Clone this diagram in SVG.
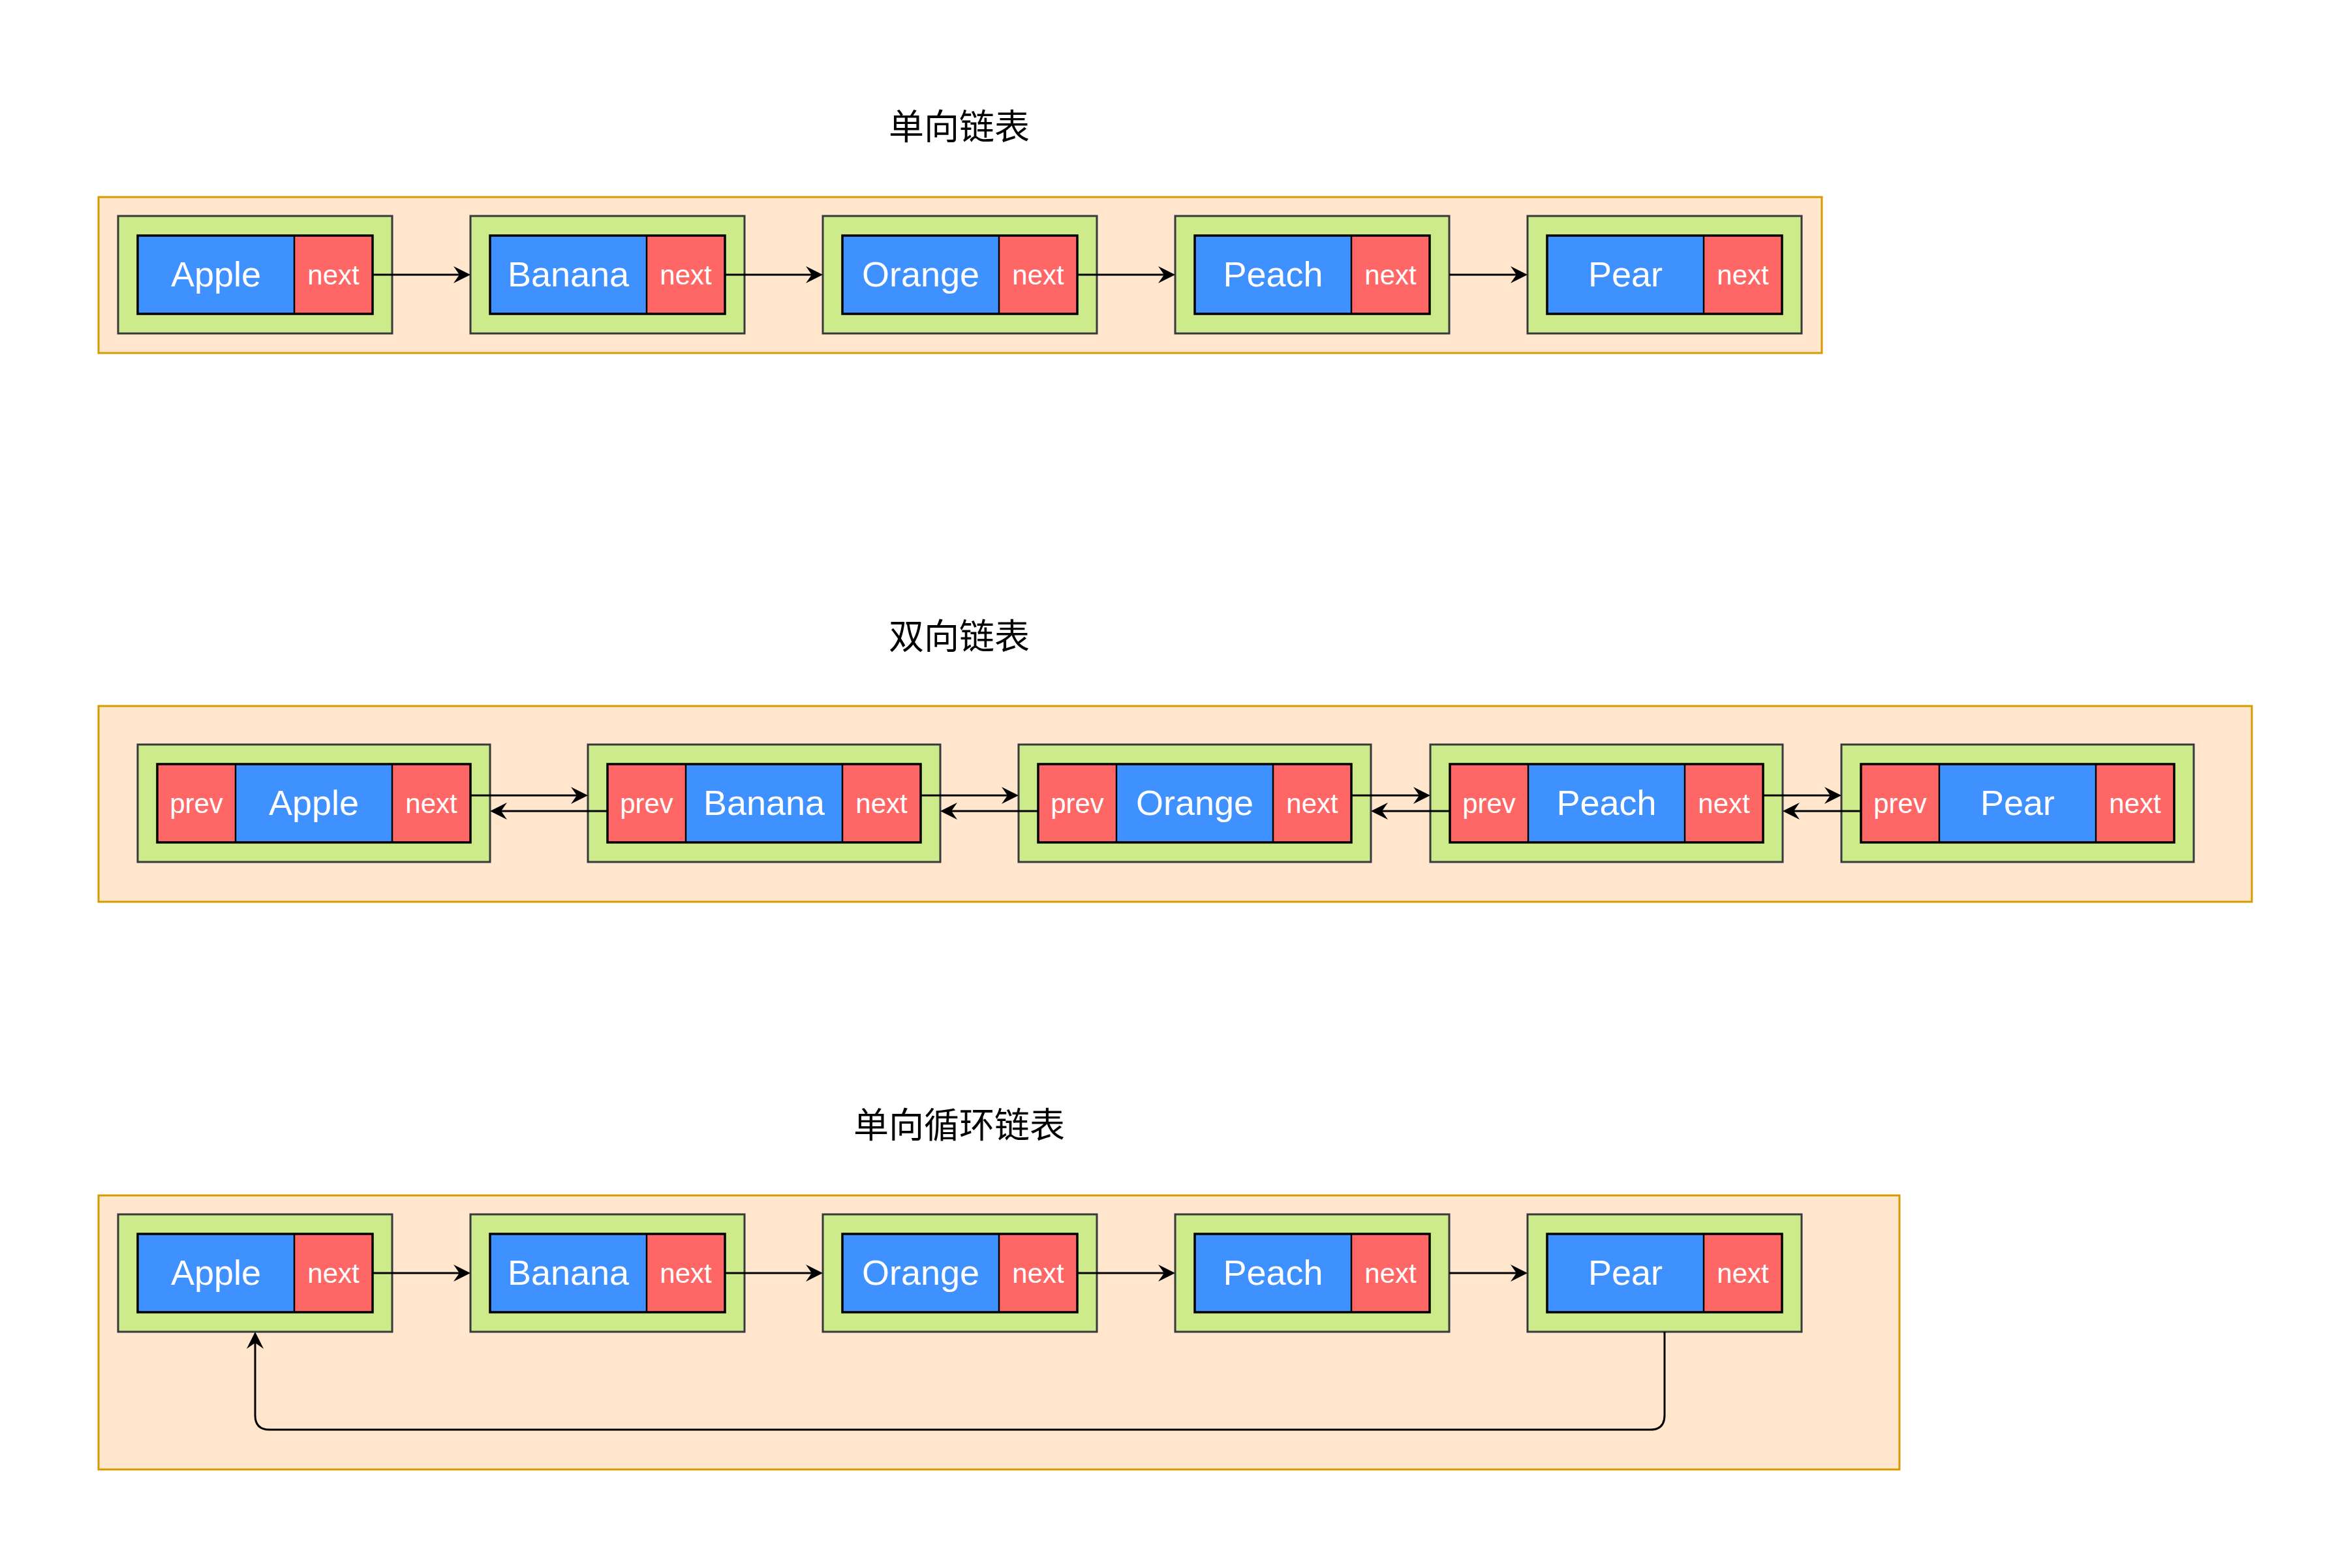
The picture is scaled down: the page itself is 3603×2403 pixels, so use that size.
<svg xmlns="http://www.w3.org/2000/svg" width="3603" height="2403" viewBox="0 0 3603 2403">
<style>
.frame{fill:#FFE6CC;stroke:#D79B00;stroke-width:3}
.node{fill:#CDEB8B;stroke:#36393D;stroke-width:3}
.val{fill:#3E91FF}
.ptr{fill:#FF6666}
.box{fill:none;stroke:#000;stroke-width:3.5}
.div{stroke:#000;stroke-width:2.5}
.big{font-family:"Liberation Sans",Arial,sans-serif;font-size:54px;fill:#fff;text-anchor:middle}
.small{font-family:"Liberation Sans",Arial,sans-serif;font-size:42px;fill:#fff;text-anchor:middle}
.title{font-family:"Noto Sans CJK SC","Noto Sans",sans-serif;font-size:54px;fill:#000;text-anchor:middle}
.edge{fill:none;stroke:#000;stroke-width:3}
</style>
<defs>
<marker id="arr" viewBox="-26 -13 26 26" refX="-17" refY="0" markerWidth="26" markerHeight="26" markerUnits="userSpaceOnUse" orient="auto">
<path d="M0,0 L-26,-13 L-17,0 L-26,13 Z" fill="#000"/>
</marker>
</defs>
<rect width="3603" height="2403" fill="#fff"/>

<g id="frames">
<rect class="frame" x="151" y="302" width="2641" height="239"/>
<rect class="frame" x="151" y="1082" width="3300" height="300"/>
<rect class="frame" x="151" y="1832" width="2760" height="420"/>
</g>

<g id="titles">
<text class="title" x="1470" y="214">单向链表</text>
<text class="title" x="1470" y="995">双向链表</text>
<text class="title" x="1470" y="1744">单向循环链表</text>
</g>

<!-- Row 1: singly linked list -->
<g id="s1-apple">
<rect class="node" x="181" y="331" width="420" height="180"/>
<rect class="val" x="211" y="361" width="240" height="120"/><rect class="ptr" x="451" y="361" width="120" height="120"/>
<line class="div" x1="451" y1="361" x2="451" y2="481"/><rect class="box" x="211" y="361" width="360" height="120"/>
<text class="big" x="331" y="439">Apple</text><text class="small" x="511" y="436">next</text>
</g>
<g id="s1-banana">
<rect class="node" x="721" y="331" width="420" height="180"/>
<rect class="val" x="751" y="361" width="240" height="120"/><rect class="ptr" x="991" y="361" width="120" height="120"/>
<line class="div" x1="991" y1="361" x2="991" y2="481"/><rect class="box" x="751" y="361" width="360" height="120"/>
<text class="big" x="871" y="439">Banana</text><text class="small" x="1051" y="436">next</text>
</g>
<g id="s1-orange">
<rect class="node" x="1261" y="331" width="420" height="180"/>
<rect class="val" x="1291" y="361" width="240" height="120"/><rect class="ptr" x="1531" y="361" width="120" height="120"/>
<line class="div" x1="1531" y1="361" x2="1531" y2="481"/><rect class="box" x="1291" y="361" width="360" height="120"/>
<text class="big" x="1411" y="439">Orange</text><text class="small" x="1591" y="436">next</text>
</g>
<g id="s1-peach">
<rect class="node" x="1801" y="331" width="420" height="180"/>
<rect class="val" x="1831" y="361" width="240" height="120"/><rect class="ptr" x="2071" y="361" width="120" height="120"/>
<line class="div" x1="2071" y1="361" x2="2071" y2="481"/><rect class="box" x="1831" y="361" width="360" height="120"/>
<text class="big" x="1951" y="439">Peach</text><text class="small" x="2131" y="436">next</text>
</g>
<g id="s1-pear">
<rect class="node" x="2341" y="331" width="420" height="180"/>
<rect class="val" x="2371" y="361" width="240" height="120"/><rect class="ptr" x="2611" y="361" width="120" height="120"/>
<line class="div" x1="2611" y1="361" x2="2611" y2="481"/><rect class="box" x="2371" y="361" width="360" height="120"/>
<text class="big" x="2491" y="439">Pear</text><text class="small" x="2671" y="436">next</text>
</g>

<!-- Row 2: doubly linked list -->
<g id="d-apple">
<rect class="node" x="211" y="1141" width="540" height="180"/>
<rect class="ptr" x="241" y="1171" width="120" height="120"/><rect class="val" x="361" y="1171" width="240" height="120"/><rect class="ptr" x="601" y="1171" width="120" height="120"/>
<line class="div" x1="361" y1="1171" x2="361" y2="1291"/><line class="div" x1="601" y1="1171" x2="601" y2="1291"/>
<rect class="box" x="241" y="1171" width="480" height="120"/>
<text class="small" x="301" y="1246">prev</text><text class="big" x="481" y="1249">Apple</text><text class="small" x="661" y="1246">next</text>
</g>
<g id="d-banana">
<rect class="node" x="901" y="1141" width="540" height="180"/>
<rect class="ptr" x="931" y="1171" width="120" height="120"/><rect class="val" x="1051" y="1171" width="240" height="120"/><rect class="ptr" x="1291" y="1171" width="120" height="120"/>
<line class="div" x1="1051" y1="1171" x2="1051" y2="1291"/><line class="div" x1="1291" y1="1171" x2="1291" y2="1291"/>
<rect class="box" x="931" y="1171" width="480" height="120"/>
<text class="small" x="991" y="1246">prev</text><text class="big" x="1171" y="1249">Banana</text><text class="small" x="1351" y="1246">next</text>
</g>
<g id="d-orange">
<rect class="node" x="1561" y="1141" width="540" height="180"/>
<rect class="ptr" x="1591" y="1171" width="120" height="120"/><rect class="val" x="1711" y="1171" width="240" height="120"/><rect class="ptr" x="1951" y="1171" width="120" height="120"/>
<line class="div" x1="1711" y1="1171" x2="1711" y2="1291"/><line class="div" x1="1951" y1="1171" x2="1951" y2="1291"/>
<rect class="box" x="1591" y="1171" width="480" height="120"/>
<text class="small" x="1651" y="1246">prev</text><text class="big" x="1831" y="1249">Orange</text><text class="small" x="2011" y="1246">next</text>
</g>
<g id="d-peach">
<rect class="node" x="2192" y="1141" width="540" height="180"/>
<rect class="ptr" x="2222" y="1171" width="120" height="120"/><rect class="val" x="2342" y="1171" width="240" height="120"/><rect class="ptr" x="2582" y="1171" width="120" height="120"/>
<line class="div" x1="2342" y1="1171" x2="2342" y2="1291"/><line class="div" x1="2582" y1="1171" x2="2582" y2="1291"/>
<rect class="box" x="2222" y="1171" width="480" height="120"/>
<text class="small" x="2282" y="1246">prev</text><text class="big" x="2462" y="1249">Peach</text><text class="small" x="2642" y="1246">next</text>
</g>
<g id="d-pear">
<rect class="node" x="2822" y="1141" width="540" height="180"/>
<rect class="ptr" x="2852" y="1171" width="120" height="120"/><rect class="val" x="2972" y="1171" width="240" height="120"/><rect class="ptr" x="3212" y="1171" width="120" height="120"/>
<line class="div" x1="2972" y1="1171" x2="2972" y2="1291"/><line class="div" x1="3212" y1="1171" x2="3212" y2="1291"/>
<rect class="box" x="2852" y="1171" width="480" height="120"/>
<text class="small" x="2912" y="1246">prev</text><text class="big" x="3092" y="1249">Pear</text><text class="small" x="3272" y="1246">next</text>
</g>

<!-- Row 3: singly circular linked list -->
<g id="c-apple">
<rect class="node" x="181" y="1861" width="420" height="180"/>
<rect class="val" x="211" y="1891" width="240" height="120"/><rect class="ptr" x="451" y="1891" width="120" height="120"/>
<line class="div" x1="451" y1="1891" x2="451" y2="2011"/><rect class="box" x="211" y="1891" width="360" height="120"/>
<text class="big" x="331" y="1969">Apple</text><text class="small" x="511" y="1966">next</text>
</g>
<g id="c-banana">
<rect class="node" x="721" y="1861" width="420" height="180"/>
<rect class="val" x="751" y="1891" width="240" height="120"/><rect class="ptr" x="991" y="1891" width="120" height="120"/>
<line class="div" x1="991" y1="1891" x2="991" y2="2011"/><rect class="box" x="751" y="1891" width="360" height="120"/>
<text class="big" x="871" y="1969">Banana</text><text class="small" x="1051" y="1966">next</text>
</g>
<g id="c-orange">
<rect class="node" x="1261" y="1861" width="420" height="180"/>
<rect class="val" x="1291" y="1891" width="240" height="120"/><rect class="ptr" x="1531" y="1891" width="120" height="120"/>
<line class="div" x1="1531" y1="1891" x2="1531" y2="2011"/><rect class="box" x="1291" y="1891" width="360" height="120"/>
<text class="big" x="1411" y="1969">Orange</text><text class="small" x="1591" y="1966">next</text>
</g>
<g id="c-peach">
<rect class="node" x="1801" y="1861" width="420" height="180"/>
<rect class="val" x="1831" y="1891" width="240" height="120"/><rect class="ptr" x="2071" y="1891" width="120" height="120"/>
<line class="div" x1="2071" y1="1891" x2="2071" y2="2011"/><rect class="box" x="1831" y="1891" width="360" height="120"/>
<text class="big" x="1951" y="1969">Peach</text><text class="small" x="2131" y="1966">next</text>
</g>
<g id="c-pear">
<rect class="node" x="2341" y="1861" width="420" height="180"/>
<rect class="val" x="2371" y="1891" width="240" height="120"/><rect class="ptr" x="2611" y="1891" width="120" height="120"/>
<line class="div" x1="2611" y1="1891" x2="2611" y2="2011"/><rect class="box" x="2371" y="1891" width="360" height="120"/>
<text class="big" x="2491" y="1969">Pear</text><text class="small" x="2671" y="1966">next</text>
</g>

<g id="connectors" class="edge" marker-end="url(#arr)">
<!-- row 1 -->
<path d="M571,421 H704"/>
<path d="M1111,421 H1244"/>
<path d="M1651,421 H1784"/>
<path d="M2221,421 H2324"/>
<!-- row 2 forward -->
<path d="M721,1219 H884"/>
<path d="M1411,1219 H1544"/>
<path d="M2071,1219 H2175"/>
<path d="M2702,1219 H2805"/>
<!-- row 2 backward -->
<path d="M931,1243 H768"/>
<path d="M1591,1243 H1458"/>
<path d="M2222,1243 H2118"/>
<path d="M2852,1243 H2749"/>
<!-- row 3 -->
<path d="M571,1951 H704"/>
<path d="M1111,1951 H1244"/>
<path d="M1651,1951 H1784"/>
<path d="M2221,1951 H2324"/>
<path d="M2551,2041 V2169 Q2551,2191 2529,2191 H413 Q391,2191 391,2169 V2058"/>
</g>
</svg>
